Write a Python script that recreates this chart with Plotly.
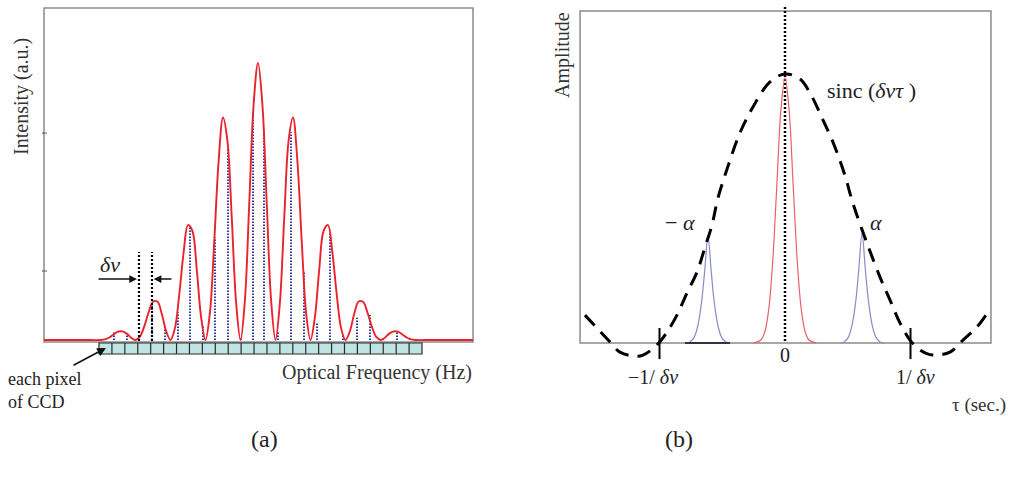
import plotly.graph_objects as go

# ================= DATA : panel (a) =================
# relative optical frequency (in fringe periods) and spectral intensity (a.u.)
freq_red = [-6.114, -5.0, -4.5, -4.375, -4.25, -4.125, -4.0, -3.875, -3.75, -3.625,
            -3.5, -3.375, -3.25, -3.125, -3.0, -2.875, -2.75, -2.625, -2.5, -2.375,
            -2.25, -2.125, -2.0, -1.875, -1.75, -1.625, -1.5, -1.375, -1.25, -1.125,
            -1.0, -0.875, -0.75, -0.625, -0.5, -0.375, -0.25, -0.125, 0.0, 0.125,
            0.25, 0.375, 0.5, 0.625, 0.75, 0.875, 1.0, 1.125, 1.25, 1.375,
            1.5, 1.625, 1.75, 1.875, 2.0, 2.125, 2.25, 2.375, 2.5, 2.625,
            2.75, 2.875, 3.0, 3.125, 3.25, 3.375, 3.5, 3.625, 3.75, 3.875,
            4.0, 4.125, 4.25, 4.375, 4.5, 5.0, 6.143]
intensity_red = [0.0, 0.0, 0.0, 0.002, 0.009, 0.020, 0.030, 0.031, 0.023, 0.008,
                 0.0, 0.012, 0.049, 0.100, 0.138, 0.139, 0.095, 0.032, 0.0, 0.042,
                 0.164, 0.316, 0.415, 0.394, 0.255, 0.082, 0.0, 0.097, 0.355, 0.646,
                 0.803, 0.721, 0.442, 0.134, 0.0, 0.142, 0.493, 0.851, 1.000, 0.851,
                 0.493, 0.142, 0.0, 0.134, 0.442, 0.721, 0.803, 0.646, 0.355, 0.097,
                 0.0, 0.082, 0.255, 0.394, 0.415, 0.316, 0.164, 0.042, 0.0, 0.032,
                 0.095, 0.139, 0.138, 0.100, 0.049, 0.012, 0.0, 0.008, 0.023, 0.031,
                 0.030, 0.020, 0.009, 0.002, 0.0, 0.0, 0.0]

# intensity sampled by each CCD pixel edge (blue dotted lines)
pixel_freq = [-4.114, -3.743, -3.400, -3.029, -2.657, -2.286, -1.943, -1.571,
              -1.229, -0.857, -0.486, -0.143, 0.171, 0.571, 0.943, 1.314,
              1.686, 2.057, 2.429, 2.829, 3.200, 3.571, 3.971, 4.343]
pixel_intensity = [0.028, 0.018, 0.008, 0.132, 0.045, 0.100, 0.410, 0.050,
                   0.370, 0.690, 0.010, 0.820, 0.760, 0.030, 0.750, 0.250,
                   0.060, 0.390, 0.020, 0.080, 0.090, 0.005, 0.029, 0.004]

delta_nu_marks = [-3.400, -3.029]
delta_nu_top = 0.318
ccd_pixel_count = 25
yticks_a = [0.249, 0.747]

# ================= DATA : panel (b) =================
tau_sinc = [-1.594, -1.394, -1.315, -1.195, -1.131, -1.020, -0.940, -0.861, -0.781,
            -0.701, -0.637, -0.582, -0.534, -0.454, -0.359, -0.255, -0.120, 0.0,
            0.120, 0.199, 0.303, 0.398, 0.478, 0.542, 0.653, 0.757, 0.837, 0.916,
            0.996, 1.076, 1.179, 1.315, 1.418, 1.530, 1.618]
amp_sinc = [0.104, 0.004, -0.034, -0.049, -0.045, -0.007, 0.041, 0.104, 0.187,
            0.265, 0.358, 0.440, 0.541, 0.660, 0.784, 0.881, 0.974, 1.004,
            0.985, 0.933, 0.832, 0.731, 0.625, 0.520, 0.373, 0.246, 0.160, 0.075,
            0.011, -0.026, -0.045, -0.034, 0.011, 0.060, 0.116]

tau_center = [-0.25, -0.19, -0.16, -0.13, -0.10, -0.065, -0.032, 0.0,
              0.032, 0.065, 0.10, 0.13, 0.16, 0.19, 0.25]
amp_center = [0.0, 0.012, 0.043, 0.124, 0.289, 0.588, 0.873, 0.99,
              0.873, 0.588, 0.289, 0.124, 0.043, 0.012, 0.0]

tau_minus_alpha = [-0.785, -0.755, -0.725, -0.695, -0.665, -0.639, -0.614,
                   -0.589, -0.564, -0.534, -0.504, -0.474, -0.444]
amp_minus_alpha = [0.0, 0.005, 0.020, 0.064, 0.152, 0.274, 0.400,
                   0.274, 0.152, 0.064, 0.020, 0.005, 0.0]
tau_plus_alpha = [0.444, 0.474, 0.504, 0.534, 0.564, 0.589, 0.614,
                  0.639, 0.665, 0.695, 0.725, 0.755, 0.785]
amp_plus_alpha = [0.0, 0.005, 0.021, 0.066, 0.156, 0.281, 0.410,
                  0.281, 0.156, 0.066, 0.021, 0.005, 0.0]

tau_ticks = [-1.0, 0.0, 1.0]
tau_tick_labels = ["\u22121/ <i>\u03b4\u03bd</i>", "0", "1/ <i>\u03b4\u03bd</i>"]

# ================= FIGURE =================
W, H = 1013, 479
SERIF = "Liberation Serif, Times New Roman, serif"
fig = go.Figure()

# panel (a) traces
bx, by = [], []
for f, v in zip(pixel_freq, pixel_intensity):
    bx += [f, f, None]
    by += [0, v, None]
fig.add_trace(go.Scatter(x=bx, y=by, mode="lines", xaxis="x", yaxis="y",
                         line=dict(color="#2f3a9e", width=2, dash="1.5px,1.5px"),
                         hoverinfo="skip", showlegend=False))
fig.add_trace(go.Scatter(x=freq_red, y=intensity_red, mode="lines", xaxis="x", yaxis="y",
                         line=dict(color="#e8232d", width=1.9, shape="spline"),
                         showlegend=False))
dx, dy = [], []
for f in delta_nu_marks:
    dx += [f, f, None]
    dy += [-0.004, delta_nu_top, None]
fig.add_trace(go.Scatter(x=dx, y=dy, mode="lines", xaxis="x", yaxis="y",
                         line=dict(color="black", width=2.2, dash="2px,2px"),
                         hoverinfo="skip", showlegend=False))

# panel (b) traces
fig.add_trace(go.Scatter(x=[0, 0], y=[1.254, 0], mode="lines", xaxis="x2", yaxis="y2",
                         line=dict(color="black", width=2.5, dash="2px,2px"),
                         showlegend=False))
fig.add_trace(go.Scatter(x=tau_center, y=amp_center, mode="lines", xaxis="x2", yaxis="y2",
                         line=dict(color="#e8606a", width=1.2, shape="spline"),
                         showlegend=False))
fig.add_trace(go.Scatter(x=tau_minus_alpha, y=amp_minus_alpha, mode="lines", xaxis="x2", yaxis="y2",
                         line=dict(color="#8a8ac8", width=1.2, shape="spline"),
                         showlegend=False))
fig.add_trace(go.Scatter(x=tau_plus_alpha, y=amp_plus_alpha, mode="lines", xaxis="x2", yaxis="y2",
                         line=dict(color="#8a8ac8", width=1.2, shape="spline"),
                         showlegend=False))
fig.add_trace(go.Scatter(x=tau_sinc, y=amp_sinc, mode="lines", xaxis="x2", yaxis="y2",
                         line=dict(color="black", width=3, dash="14px,9px", shape="spline"),
                         showlegend=False))

# ---------- axes (hidden; frames drawn as shapes) ----------
# panel (a): px = 258 + 35*f ; py = 340 - 277*I
xa_rng = [(0 - 258) / 35, (506.5 - 258) / 35]
ya_rng = [(340 - H) / 277, 340 / 277]
# panel (b): px = 785 + 125.5*tau ; py = 343 - 268*A
xb_rng = [(506.5 - 785) / 125.5, (W - 785) / 125.5]
yb_rng = [(343 - H) / 268, 343 / 268]

fig.update_layout(
    width=W, height=H, margin=dict(l=0, r=0, t=0, b=0),
    paper_bgcolor="white", plot_bgcolor="white",
    xaxis=dict(domain=[0, 0.5], range=xa_rng, visible=False, fixedrange=True),
    yaxis=dict(domain=[0, 1], range=ya_rng, visible=False, fixedrange=True),
    xaxis2=dict(domain=[0.5, 1], range=xb_rng, visible=False, fixedrange=True),
    yaxis2=dict(domain=[0, 1], range=yb_rng, visible=False, anchor="x2", fixedrange=True),
    font=dict(family=SERIF, size=18, color="#222"),
)

shapes = []
FRAME = dict(color="#8a8a8a", width=1.5)
# panel (a) frame
shapes.append(dict(type="rect", xref="x", yref="y", x0=-6.114, x1=6.143, y0=-0.0072, y1=1.1986,
                   line=FRAME, layer="below"))
for t in yticks_a:
    shapes.append(dict(type="line", xref="x", yref="y", x0=-6.171, x1=-6.029, y0=t, y1=t,
                       line=dict(color="#555", width=1)))
# CCD bar
ccd_x0, ccd_x1 = (99 - 258) / 35, (422 - 258) / 35
ccd_y0, ccd_y1 = (340 - 354) / 277, (340 - 343) / 277
shapes.append(dict(type="rect", xref="x", yref="y", x0=ccd_x0, x1=ccd_x1, y0=ccd_y0, y1=ccd_y1,
                   fillcolor="#bfe4e4", line=dict(color="#2a2a2a", width=1.2)))
cw = (ccd_x1 - ccd_x0) / ccd_pixel_count
for k in range(1, ccd_pixel_count):
    xk = ccd_x0 + k * cw
    shapes.append(dict(type="line", xref="x", yref="y", x0=xk, x1=xk, y0=ccd_y0, y1=ccd_y1,
                       line=dict(color="#2a2a2a", width=1.2)))

# panel (b) frame
shapes.append(dict(type="rect", xref="x2", yref="y2", x0=-1.633, x1=1.641, y0=0, y1=1.239,
                   line=FRAME, layer="below"))
shapes.append(dict(type="line", xref="x2", yref="y2", x0=-0.797, x1=-0.438, y0=0, y1=0,
                   line=dict(color="#333344", width=2)))
for t in tau_ticks:
    if t != 0:
        shapes.append(dict(type="line", xref="x2", yref="y2", x0=t, x1=t, y0=-0.060, y1=0.056,
                           line=dict(color="black", width=2)))
fig.update_layout(shapes=shapes)

ann = []
# ---- panel (a) annotations ----
ann.append(dict(xref="x", yref="y", x=-6.743, y=0.881, text="Intensity (a.u.)", textangle=-90,
                showarrow=False, font=dict(family=SERIF, size=20, color="#333")))
ann.append(dict(xref="x", yref="y", x=3.4, y=-0.119, text="Optical Frequency (Hz)",
                showarrow=False, font=dict(family=SERIF, size=20, color="#333")))
ann.append(dict(xref="x", yref="y", x=-7.2, y=-0.184, xanchor="left", align="left",
                text="each pixel<br>of CCD", showarrow=False,
                font=dict(family=SERIF, size=18, color="#222")))
ann.append(dict(xref="x", yref="y", x=-4.229, y=0.271, text="<i>\u03b4\u03bd</i>",
                showarrow=False, font=dict(family=SERIF, size=22, color="#222")))
ann.append(dict(xref="x", yref="y", axref="x", ayref="y", x=-3.457, y=0.220, ax=-4.6, ay=0.220,
                text="", showarrow=True, arrowhead=2, arrowsize=1.1, arrowwidth=1.4, arrowcolor="#111"))
ann.append(dict(xref="x", yref="y", axref="x", ayref="y", x=-2.98, y=0.220, ax=-2.43, ay=0.220,
                text="", showarrow=True, arrowhead=2, arrowsize=1.1, arrowwidth=1.4, arrowcolor="#111"))
ann.append(dict(xref="x", yref="y", axref="x", ayref="y", x=-4.343, y=-0.0289, ax=-5.314, ay=-0.0939,
                text="", showarrow=True, arrowhead=2, arrowsize=1.1, arrowwidth=1.6, arrowcolor="#111"))

# ---- panel (b) annotations ----
ann.append(dict(xref="x2", yref="y2", x=-1.769, y=1.075, text="Amplitude", textangle=-90,
                showarrow=False, font=dict(family=SERIF, size=20, color="#333")))
ann.append(dict(xref="x2", yref="y2", x=0.693, y=0.944, text="sinc (<i>\u03b4\u03bd\u03c4</i> )",
                showarrow=False, font=dict(family=SERIF, size=22, color="#222")))
ann.append(dict(xref="x2", yref="y2", x=-0.837, y=0.448, text="\u2212 <i>\u03b1</i>",
                showarrow=False, font=dict(family=SERIF, size=22, color="#222")))
ann.append(dict(xref="x2", yref="y2", x=0.725, y=0.448, text="<i>\u03b1</i>",
                showarrow=False, font=dict(family=SERIF, size=22, color="#222")))
tick_shift = {-1.0: -7, 0.0: 0, 1.0: 5}
tick_y = {-1.0: -0.127, 0.0: -0.045, 1.0: -0.127}
for t, lab in zip(tau_ticks, tau_tick_labels):
    ann.append(dict(xref="x2", yref="y2", x=t, y=tick_y[t], text=lab, xshift=tick_shift[t],
                    showarrow=False, font=dict(family=SERIF, size=20, color="#222")))
ann.append(dict(xref="x2", yref="y2", x=1.546, y=-0.231, text="\u03c4 (sec.)",
                showarrow=False, font=dict(family=SERIF, size=19, color="#333")))

# panel labels
ann.append(dict(xref="paper", yref="paper", x=249 / W, y=1 - 454 / H, text="(a)",
                showarrow=False, font=dict(family=SERIF, size=24, color="#222")))
ann.append(dict(xref="paper", yref="paper", x=695 / W, y=1 - 454 / H, text="(b)",
                showarrow=False, font=dict(family=SERIF, size=24, color="#222")))
fig.update_layout(annotations=ann)

fig.write_html("out.html")
